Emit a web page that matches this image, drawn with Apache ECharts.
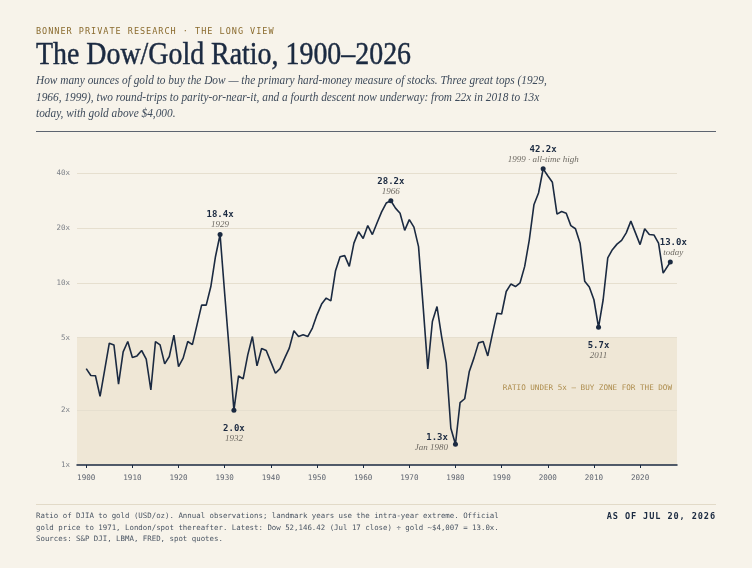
<!DOCTYPE html>
<html>
<head>
<meta charset="utf-8">
<title>The Dow/Gold Ratio, 1900–2026</title>
<script src="https://cdn.jsdelivr.net/npm/echarts@6/dist/echarts.min.js"></script>
<style>
html, body { margin: 0; padding: 0; background: #f7f3ea; }
body { width: 752px; height: 568px; position: relative; overflow: hidden; }
#chart { position: absolute; left: 0; top: 0; width: 752px; height: 568px; }
.kicker {
  position: absolute; left: 36px; top: 26px;
  font: 8.5px 'DejaVu Sans Mono', monospace; letter-spacing: 1.0px; color: #8a6b2e;
}
.title {
  position: absolute; left: 36px; top: 36px; white-space: nowrap;
  font: 31px 'Liberation Serif', serif; color: #1b2a41;
  -webkit-text-stroke: 0.45px #1b2a41;
  transform: scaleX(0.9); transform-origin: left top;
}
.dek {
  position: absolute; left: 36px; top: 72px; white-space: nowrap;
  font: italic 12px/16.5px 'Liberation Serif', serif; color: #3e4b5b;
  transform: scaleX(0.945); transform-origin: left top;
}
.rule { position: absolute; left: 36px; width: 680px; top: 131px; height: 1px; background: #5d6470; }
.foot-rule { position: absolute; left: 36px; width: 680px; top: 504px; height: 1px; background: #e2dac8; }
.note {
  position: absolute; left: 36px; top: 510px; white-space: nowrap;
  font: 7.4px/11.7px 'DejaVu Sans Mono', monospace; color: #4a5563;
}
.asof {
  position: absolute; right: 36px; top: 511px;
  font: bold 8.6px 'DejaVu Sans Mono', monospace; letter-spacing: 0.9px; color: #1b2a41;
}
</style>
</head>
<body>
<div id="chart"></div>
<div class="kicker">BONNER PRIVATE RESEARCH · THE LONG VIEW</div>
<div class="title">The Dow/Gold Ratio, 1900–2026</div>
<div class="dek">How many ounces of gold to buy the Dow — the primary hard-money measure of stocks. Three great tops (1929,<br>1966, 1999), two round-trips to parity-or-near-it, and a fourth descent now underway: from 22x in 2018 to 13x<br>today, with gold above $4,000.</div>
<div class="rule"></div>
<div class="foot-rule"></div>
<div class="note">Ratio of DJIA to gold (USD/oz). Annual observations; landmark years use the intra-year extreme. Official<br>gold price to 1971, London/spot thereafter. Latest: Dow 52,146.42 (Jul 17 close) ÷ gold ~$4,007 = 13.0x.<br>Sources: S&amp;P DJI, LBMA, FRED, spot quotes.</div>
<div class="asof">AS OF JUL 20, 2026</div>

<script>
// annual observations, last point = Jul 20 2026
const years = [
  1900, 1901, 1902, 1903, 1904, 1905, 1906, 1907, 1908, 1909,
  1910, 1911, 1912, 1913, 1914, 1915, 1916, 1917, 1918, 1919,
  1920, 1921, 1922, 1923, 1924, 1925, 1926, 1927, 1928, 1929,
  1930, 1931, 1932, 1933, 1934, 1935, 1936, 1937, 1938, 1939,
  1940, 1941, 1942, 1943, 1944, 1945, 1946, 1947, 1948, 1949,
  1950, 1951, 1952, 1953, 1954, 1955, 1956, 1957, 1958, 1959,
  1960, 1961, 1962, 1963, 1964, 1965, 1966, 1967, 1968, 1969,
  1970, 1971, 1972, 1973, 1974, 1975, 1976, 1977, 1978, 1979,
  1980, 1981, 1982, 1983, 1984, 1985, 1986, 1987, 1988, 1989,
  1990, 1991, 1992, 1993, 1994, 1995, 1996, 1997, 1998, 1999,
  2000, 2001, 2002, 2003, 2004, 2005, 2006, 2007, 2008, 2009,
  2010, 2011, 2012, 2013, 2014, 2015, 2016, 2017, 2018, 2019,
  2020, 2021, 2022, 2023, 2024, 2025, 2026.55
]
const ratios = [
  3.38, 3.10, 3.09, 2.38, 3.33, 4.66, 4.56, 2.78, 4.18, 4.76,
  3.89, 3.97, 4.25, 3.81, 2.58, 4.76, 4.56, 3.59, 3.94, 5.16,
  3.47, 3.86, 4.76, 4.58, 5.88, 7.54, 7.54, 9.54, 13.9, 18.4,
  8.7, 4.2, 2.0, 3.08, 2.97, 4.02, 5.07, 3.50, 4.36, 4.25,
  3.68, 3.19, 3.38, 3.86, 4.38, 5.45, 5.07, 5.18, 5.07, 5.64,
  6.67, 7.64, 8.24, 7.96, 11.6, 13.9, 14.1, 12.3, 16.5, 19.1,
  17.5, 20.6, 18.4, 21.3, 24.5, 27.4, 28.2, 25.7, 24.1, 19.4,
  22.2, 20.2, 15.8, 7.4, 3.37, 6.13, 7.41, 5.07, 3.62, 1.59,
  1.3, 2.20, 2.31, 3.26, 3.86, 4.68, 4.76, 3.97, 5.23, 6.81,
  6.74, 8.96, 9.84, 9.54, 10.0, 12.3, 17.2, 26.8, 31.1, 42.2,
  38.7, 35.6, 23.8, 24.6, 24.1, 20.6, 19.8, 16.5, 10.2, 9.47,
  8.07, 5.7, 8.07, 13.7, 15.2, 16.3, 17.1, 18.8, 21.8, 18.8,
  16.2, 19.8, 18.4, 18.3, 16.5, 11.3, 13.0
]

const landmarkYears = [1929, 1932, 1966, 1980, 1999, 2011, 2026.55]
const landmarkNotes = ['1929', '1932', '1966', 'Jan 1980', '1999 · all-time high', '2011', 'today']

const yTicks = [1, 2, 5, 10, 20, 40]
const xTicks = [1900, 1910, 1920, 1930, 1940, 1950, 1960, 1970, 1980, 1990, 2000, 2010, 2020]

const zoneLow = 1
const zoneHigh = 5
const zoneLabel = 'RATIO UNDER 5x — BUY ZONE FOR THE DOW'

const MONO = "'DejaVu Sans Mono', monospace"
const SERIF = "'Liberation Serif', serif"
const INK = '#1b2a41'

// where each landmark label sits (same order as landmarkYears)
const placement = [
  { position: 'top', distance: 2 },
  { position: 'bottom', distance: 11 },
  { position: 'top', distance: 2 },
  { position: 'left', distance: 5, offset: [0, -2] },
  { position: 'top', distance: 2 },
  { position: 'bottom', distance: 11 },
  { position: 'top', distance: 2, offset: [3, 0] },
]

const rich = {
  v: { fontFamily: MONO, fontWeight: 'bold', fontSize: 9, color: INK, lineHeight: 10 },
  n: { fontFamily: SERIF, fontStyle: 'italic', fontSize: 9, color: '#6e6a63', lineHeight: 10 },
}

const lineData = years.map((yr, i) => {
  const k = landmarkYears.indexOf(yr)
  if (k < 0) return [yr, ratios[i]]
  const p = placement[k]
  return {
    value: [yr, ratios[i]],
    symbol: 'circle',
    symbolSize: 5,
    label: {
      show: true,
      position: p.position,
      distance: p.distance,
      offset: p.offset || [0, 0],
      formatter: '{v|' + ratios[i].toFixed(1) + 'x}\n{n|' + landmarkNotes[k] + '}',
      rich: rich,
    },
  }
})

const chart = echarts.init(document.getElementById('chart'), null, { renderer: 'canvas' })

const option = {
  animation: false,
  backgroundColor: 'transparent',
  grid: { left: 77, right: 75, top: 141, bottom: 103 },
  xAxis: {
    type: 'value',
    min: 1898,
    max: 2028,
    z: 5,
    splitLine: { show: false },
    axisLine: { lineStyle: { color: INK, width: 1.5 } },
    axisTick: { customValues: xTicks, length: 3, lineStyle: { color: INK } },
    axisLabel: {
      customValues: xTicks,
      formatter: (v) => String(v),
      color: '#5f6570',
      fontFamily: MONO,
      fontSize: 7.6,
      margin: 9,
    },
  },
  yAxis: {
    type: 'log',
    logBase: 10,
    min: 1,
    max: 60,
    axisLine: { show: false },
    axisTick: { show: false },
    axisLabel: { show: false },
    splitLine: { show: false },
  },
  series: [
    {
      // carries the buy zone and the grid lines underneath the ratio line
      type: 'line',
      data: years.map((yr, i) => [yr, ratios[i]]),
      symbol: 'none',
      silent: true,
      z: 1,
      lineStyle: { opacity: 0 },
      markArea: {
        silent: true,
        z: 1,
        itemStyle: { color: '#efe7d6' },
        label: {
          show: true,
          position: 'insideRight',
          offset: [0, -13],
          formatter: zoneLabel,
          fontFamily: MONO,
          fontSize: 7.6,
          color: '#ad8c4c',
        },
        data: [[{ yAxis: zoneLow }, { yAxis: zoneHigh }]],
      },
      markLine: {
        silent: true,
        z: 2,
        symbol: ['none', 'none'],
        lineStyle: { color: '#e6dfcf', width: 1, type: 'solid' },
        label: {
          position: 'start',
          distance: 7,
          formatter: (p) => p.value + 'x',
          fontFamily: MONO,
          fontSize: 7.5,
          color: '#7d8088',
        },
        data: yTicks.map((v) =>
          v === zoneLow ? { yAxis: v, lineStyle: { color: 'rgba(0,0,0,0)' } } : { yAxis: v }
        ),
      },
    },
    {
      type: 'line',
      data: lineData,
      z: 10,
      showSymbol: true,
      symbol: 'none',
      lineStyle: { color: INK, width: 1.6 },
      itemStyle: { color: INK },
      emphasis: { disabled: true },
    },
  ],
}

option && chart.setOption(option)
</script>
</body>
</html>
